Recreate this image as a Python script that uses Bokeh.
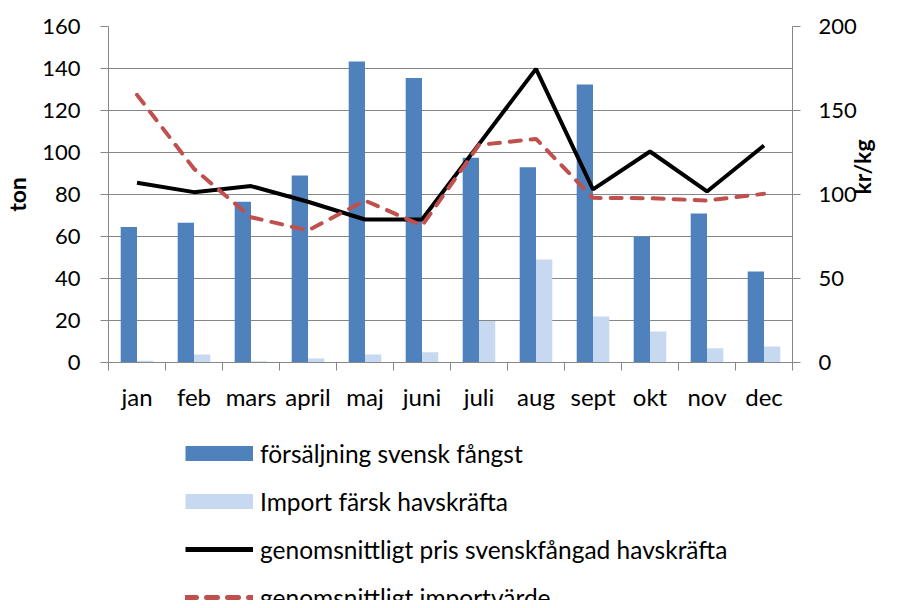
import numpy as np
from bokeh.plotting import figure
from bokeh.layouts import column
from bokeh.models import (Range1d, LinearAxis, FixedTicker, Legend, LegendItem,
                          CustomJSTickFormatter, ColumnDataSource)
from bokeh.embed import file_html
from bokeh.resources import INLINE

months = ["jan", "feb", "mars", "april", "maj", "juni", "juli", "aug", "sept", "okt", "nov", "dec"]
svensk_fangst = [64.5, 66.5, 76.5, 89, 143.3, 135.5, 97.5, 93, 132.4, 60, 71, 43.3]
import_farsk = [0.8, 3.8, 0.6, 1.9, 3.8, 4.9, 19.8, 49, 21.9, 14.8, 6.8, 7.6]
pris_svensk = [107, 101.4, 105, 95.7, 85.1, 85.1, 130, 174.8, 103, 125.6, 101.8, 129.2]
importvarde = [159.3, 115.3, 86.5, 78.6, 96.4, 81.5, 129.5, 133.1, 98, 97.8, 96.4, 100.4]
left_ticks = [0, 20, 40, 60, 80, 100, 120, 140, 160]
right_ticks = [0, 50, 100, 150, 200]
series_names = ["försäljning svensk fångst", "Import färsk havskräfta",
                "genomsnittligt pris svenskfångad havskräfta", "genomsnittligt importvärde"]

FONT = "Lato"
GRID = "#868686"
DARK = "#4F81BD"
LIGHT = "#C6D9F1"
RED = "#C0504D"
W = 897

centers = np.arange(len(months)) + 0.5
bw = 0.286
src = ColumnDataSource(dict(
    x=centers, xa=centers - bw / 2, xb=centers + bw / 2,
    sv=svensk_fangst, im=import_farsk, pr=pris_svensk, iv=importvarde))

p = figure(width=W, height=430, x_range=Range1d(0, 12), y_range=Range1d(0, 160),
           output_backend="svg", toolbar_location=None,
           min_border_left=99, min_border_right=105, min_border_top=26, min_border_bottom=68)
p.outline_line_color = None
p.extra_y_ranges = {"kr": Range1d(0, 200)}

p.xgrid.visible = False
p.ygrid.ticker = FixedTicker(ticks=left_ticks)
p.ygrid.grid_line_color = GRID
p.ygrid.grid_line_width = 1

# left axis
ya = p.yaxis[0]
ya.ticker = FixedTicker(ticks=left_ticks)
ya.axis_label = "ton"
ya.axis_label_text_font = FONT
ya.axis_label_text_font_style = "bold"
ya.axis_label_text_font_size = "23px"
ya.axis_label_text_color = "black"
ya.axis_label_standoff = 8
ya.major_label_text_font = FONT
ya.major_label_text_font_size = "22px"
ya.major_label_text_color = "black"
ya.major_label_standoff = 20
ya.major_tick_out = 8
ya.major_tick_in = 0
ya.minor_tick_line_color = None
ya.axis_line_color = GRID
ya.major_tick_line_color = GRID

# x axis
xa = p.xaxis[0]
xa.ticker = FixedTicker(ticks=list(centers), minor_ticks=list(range(13)))
xa.formatter = CustomJSTickFormatter(args=dict(months=months),
                                     code="const i = Math.floor(tick); return months[i] || '';")
xa.major_tick_line_color = None
xa.major_tick_out = 0
xa.major_tick_in = 0
xa.minor_tick_out = 8
xa.minor_tick_in = 0
xa.minor_tick_line_color = GRID
xa.axis_line_color = GRID
xa.major_label_text_font = FONT
xa.major_label_text_font_size = "24px"
xa.major_label_text_color = "black"
xa.major_label_standoff = 11

# right axis
ra = LinearAxis(y_range_name="kr", ticker=FixedTicker(ticks=right_ticks), axis_label="kr/kg")
ra.axis_label_text_font = FONT
ra.axis_label_text_font_style = "bold"
ra.axis_label_text_font_size = "23px"
ra.axis_label_text_color = "black"
ra.axis_label_standoff = 2
ra.axis_label_orientation = np.pi / 2
ra.major_label_text_font = FONT
ra.major_label_text_font_size = "22px"
ra.major_label_text_color = "black"
ra.major_label_standoff = 18
ra.major_tick_out = 8
ra.major_tick_in = 0
ra.minor_tick_line_color = None
ra.axis_line_color = GRID
ra.major_tick_line_color = GRID
p.add_layout(ra, "right")

# bars
p.vbar(x="xa", top="sv", width=bw, source=src, fill_color=DARK, line_color=None)
p.vbar(x="xb", top="im", width=bw, source=src, fill_color=LIGHT, line_color=None)

# lines
p.line(x="x", y="pr", source=src, y_range_name="kr", line_color="black", line_width=4)
p.line(x="x", y="iv", source=src, y_range_name="kr", line_color=RED, line_width=4,
       line_dash="11 10", line_cap="round")

# legend panel below the chart (key renderers lie outside its visible range)
p2 = figure(width=W, height=170, x_range=Range1d(0, 1), y_range=Range1d(0, 1),
            output_backend="svg", toolbar_location=None,
            x_axis_location=None, y_axis_location=None,
            min_border_left=0, min_border_right=0, min_border_top=0, min_border_bottom=0)
p2.outline_line_color = None
p2.grid.visible = False
off = dict(x=[-3, -2], y=[-3, -3])
k1 = p2.line(line_color=DARK, line_width=15, **off)
k2 = p2.line(line_color=LIGHT, line_width=15, **off)
k3 = p2.line(line_color="black", line_width=5, **off)
k4 = p2.line(line_color=RED, line_width=5, line_dash="11 10", line_cap="round", **off)

legend = Legend(items=[LegendItem(label=n, renderers=[r])
                       for n, r in zip(series_names, [k1, k2, k3, k4])],
                location=(77, -12))
legend.padding = 0
legend.margin = 0
legend.border_line_color = None
legend.background_fill_alpha = 0
legend.glyph_width = 68
legend.glyph_height = 30
legend.label_height = 30
legend.spacing = 18
legend.label_standoff = 7
legend.label_text_font = FONT
legend.label_text_font_size = "24.5px"
legend.label_text_color = "black"
p2.add_layout(legend, "center")

layout = column(p, p2, spacing=0)
open("out.html", "w").write(file_html(layout, INLINE))
